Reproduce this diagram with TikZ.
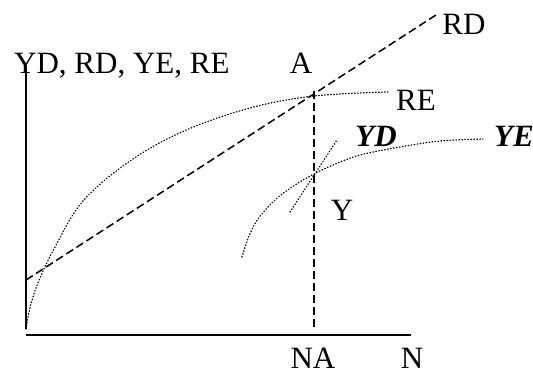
\documentclass[tikz,border=0pt]{standalone}
\usepackage{fontspec}
\setmainfont{Liberation Serif}
\begin{document}
\begin{tikzpicture}[x=1pt,y=-1pt,
  lbl/.style={inner sep=0pt, font=\fontsize{31}{37}\selectfont},
  blbl/.style={inner sep=0pt, font=\fontsize{31}{37}\selectfont\bfseries\itshape},
  axis/.style={line width=1.5pt},
  dashln/.style={line width=1.5pt, dash pattern=on 8pt off 4pt},
  dotln/.style={line width=1.3pt, dash pattern=on 0.6pt off 2.4pt, line cap=round}]
\useasboundingbox (0,0) rectangle (533,375);
% axes
\coordinate (ytop) at (26,66);
\coordinate (ybot) at (26,329);
\coordinate (xstart) at (26,335);
\coordinate (xend) at (411,335);
\draw[axis] (ytop) -- (ybot);
\draw[axis] (xstart) -- (xend);
% RD dashed line
\coordinate (R0) at (26,280);
\coordinate (R1) at (436,15);
\draw[dashln] (R0) -- (R1);
% vertical dashed at NA
\coordinate (Atop) at (314,91);
\coordinate (NAb) at (314,327);
\draw[dashln] (Atop) -- (NAb);
% RE curve
\draw[dotln] plot[smooth, tension=0.6] coordinates {(26,329) (29,312) (33,297) (40,278) (55,247) (83,201) (130,161) (184,131) (250,108) (314,96) (388,92)};
% YE curve
\draw[dotln] plot[smooth, tension=0.6] coordinates {(242,257) (249,236) (258,219) (275,200) (295,185) (314,174) (333,165) (360,155) (400,147) (440,141) (483,139)};
% YD line
\coordinate (YD0) at (290,212);
\coordinate (YD1) at (337,140);
\draw[dotln] (YD0) -- (YD1);
% labels
\node[lbl, anchor=base west] (ttl) at (14,73) {YD, RD, YE, RE};
\node[lbl, anchor=base] (lA) at (301,73) {A};
\node[lbl, anchor=base] (lRD) at (464,34) {RD};
\node[lbl, anchor=base] (lRE) at (416,110) {RE};
\node[blbl, anchor=base] (lYD) at (376,146) {YD};
\node[blbl, anchor=base] (lYE) at (514,146) {YE};
\node[lbl, anchor=base] (lY) at (342,220) {Y};
\node[lbl, anchor=base] (lNA) at (313,368) {NA};
\node[lbl, anchor=base] (lN) at (412,368) {N};
\end{tikzpicture}
\end{document}
